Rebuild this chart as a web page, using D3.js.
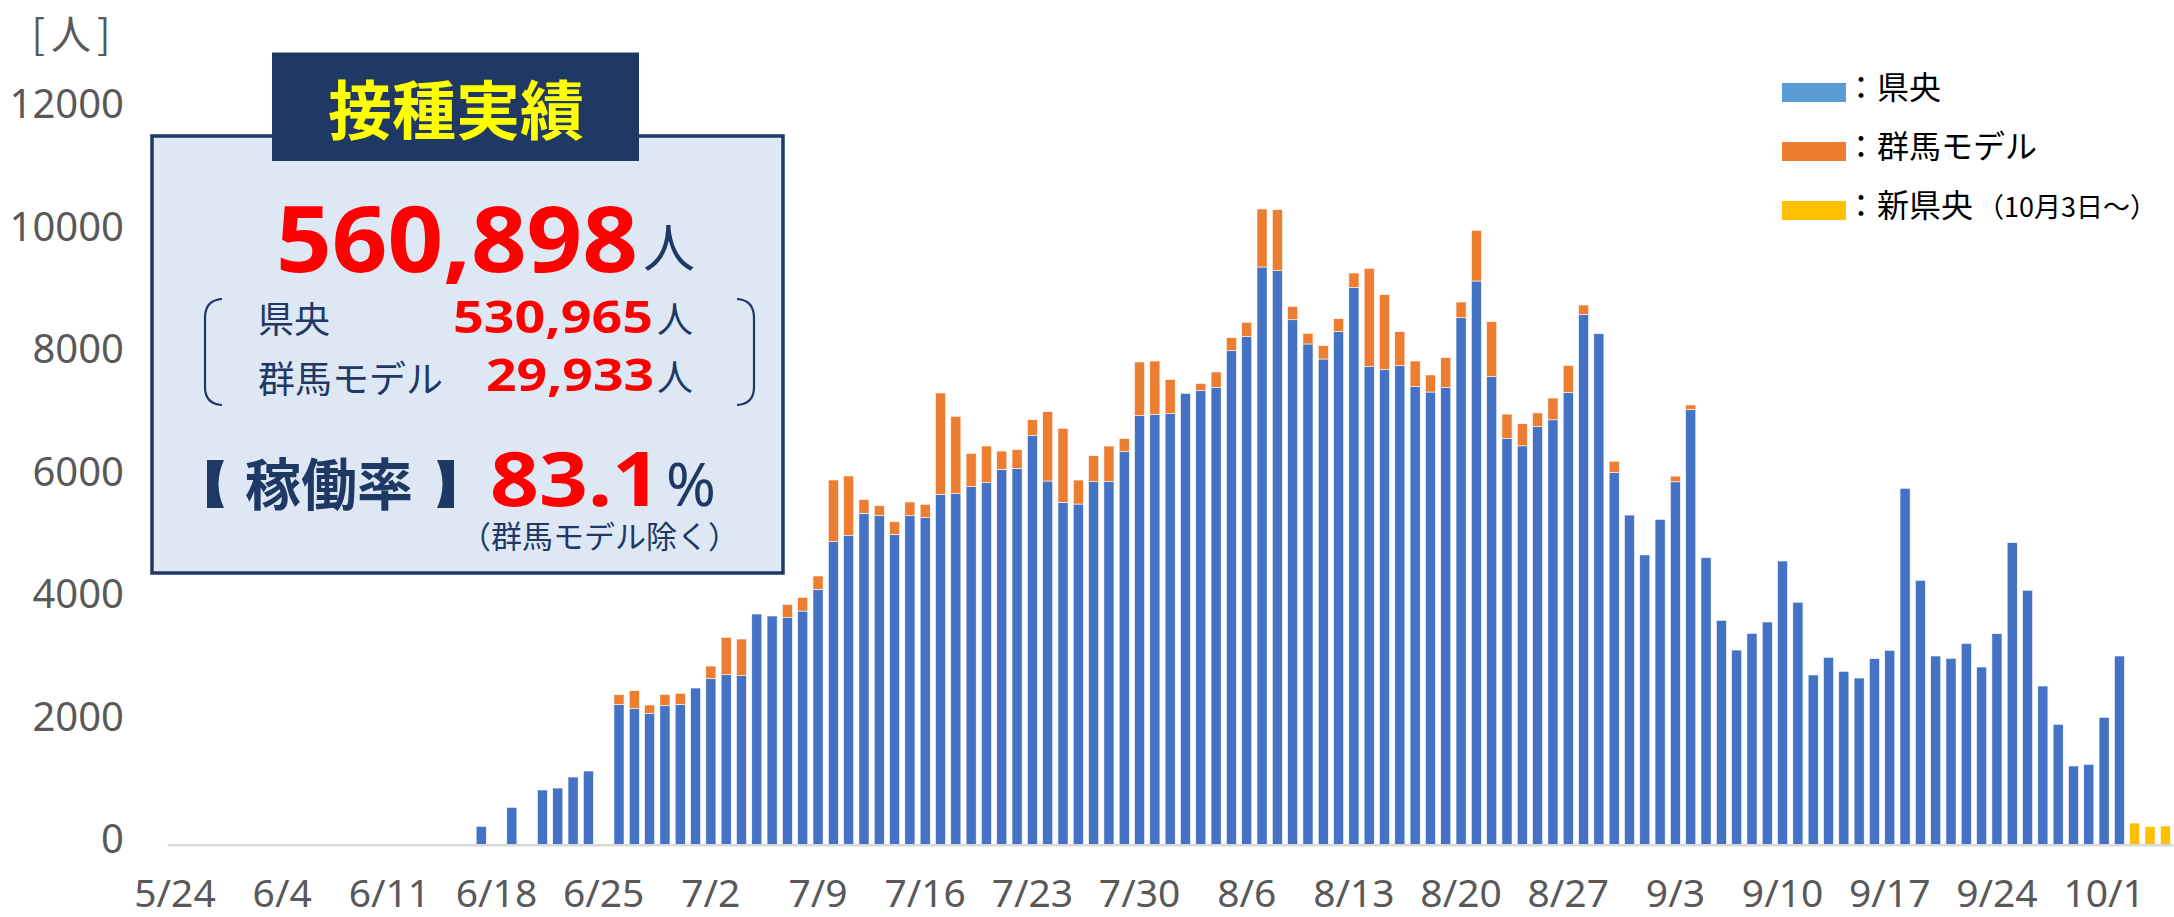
<!DOCTYPE html>
<html lang="ja">
<head>
<meta charset="utf-8">
<title>接種実績</title>
<script src="https://cdn.jsdelivr.net/npm/d3@7/dist/d3.min.js"></script>
<style>
  html, body { margin: 0; padding: 0; background: #fff; }
  svg { display: block; }
</style>
</head>
<body>
<svg id="chart" width="2174" height="917"></svg>
<script>
// categories: the axis starts at 5/24, then jumps to the daily series
const earlyDays = ["5/24", "5/29", "5/30", "5/31", "6/1", "6/2", "6/3"];
const fmt = d3.timeFormat("%-m/%-d");
const dailyDays = d3.timeDay
  .range(new Date(2021, 5, 4), new Date(2021, 9, 6))
  .map((d) => fmt(d));
const categories = earlyDays.concat(dailyDays);

const tickLabels = [
  "5/24", "6/4", "6/11", "6/18", "6/25", "7/2", "7/9", "7/16", "7/23", "7/30",
  "8/6", "8/13", "8/20", "8/27", "9/3", "9/10", "9/17", "9/24", "10/1",
];
const yTicks = [0, 2000, 4000, 6000, 8000, 10000, 12000];

// 県央 (one value per category)
const kenou = [
  0, 0, 0, 0, 0, 0, 0, 0, 0, 0, 0, 0, 0, 0, 0, 0, 0, 0, 0, 0,
  300, 0, 610, 0, 893, 925, 1105, 1203, 0,
  2286, 2220, 2139, 2269, 2286, 2558, 2710, 2775, 2759, 3766, 3734, 3706, 3815, 4170,
  4947, 5045, 5410, 5371, 5067, 5371, 5339, 5720, 5731, 5845, 5910, 6128, 6145, 6678,
  5938, 5590, 5562, 5927, 5927, 6416, 7004, 7027, 7037, 7369, 7412, 7467, 8065, 8294,
  9432, 9372, 8571, 8175, 7930, 8376, 9094, 7804, 7755, 7820, 7478, 7391, 7467, 8604,
  9203, 7641, 6630, 6512, 6824, 6937, 7386, 8655, 8343, 6075, 5382, 4731, 5312, 5925,
  7105, 4687, 3663, 3178, 3451, 3636, 4632, 3958, 2771, 3060, 2831, 2721, 3037, 3174,
  5819, 4317, 3081, 3043, 3288, 2901, 3445, 4931, 4154, 2591, 1966, 1285, 1312, 2080,
  3081, 0, 0, 0,
];

// 群馬モデル
const gunma = [
  0, 0, 0, 0, 0, 0, 0, 0, 0, 0, 0, 0, 0, 0, 0, 0, 0, 0, 0, 0,
  0, 0, 0, 0, 0, 0, 0, 0, 0,
  163, 294, 142, 186, 186, 0, 207, 611, 599, 0, 0, 219, 224, 217,
  1007, 975, 229, 164, 207, 224, 218, 1655, 1263, 545, 599, 299, 304, 261,
  1132, 1208, 392, 424, 582, 213, 877, 870, 561, 0, 121, 251, 213, 235,
  947, 996, 219, 174, 217, 212, 240, 1606, 1225, 556, 419, 278, 484, 256,
  828, 898, 400, 361, 226, 356, 438, 156, 0, 186, 0, 0, 0, 93,
  75, 0, 0, 0, 0, 0, 0, 0, 0, 0, 0, 0, 0, 0,
  0, 0, 0, 0, 0, 0, 0, 0, 0, 0, 0, 0, 0, 0,
  0, 0, 0, 0,
];

// 新県央 (from 10/3)
const shinDays = ["10/3", "10/4", "10/5"];
const shinValues = [354, 294, 305];

const seriesKeys = ["kenou", "gunma", "shin"];
const colors = { kenou: "#4472c4", gunma: "#ed7d31", shin: "#ffc000" };
const legendItems = [
  { color: "#5b9bd5", label: "：県央", note: "" },
  { color: "#ed7d31", label: "：群馬モデル", note: "" },
  { color: "#ffc000", label: "：新県央", note: "（10月3日〜）" },
];

const navy = "#1f3864";
const red = "#ff0000";
const jp = "'Noto Sans CJK JP', 'Noto Sans', sans-serif";
const latin = "'Noto Sans', 'Noto Sans CJK JP', sans-serif";

const svg = d3.select("#chart");

// 1. rows for the stack
const shinMap = new Map(shinDays.map((d, i) => [d, shinValues[i]]));
const rows = categories.map((c, i) => ({
  date: c,
  kenou: kenou[i],
  gunma: gunma[i],
  shin: shinMap.get(c) || 0,
}));
const layers = d3.stack().keys(seriesKeys)(rows);

// 2. scales
const x = d3
  .scaleBand()
  .domain(categories)
  .range([167.35, 2173])
  .paddingInner(0.34)
  .paddingOuter(0.17);
const y = d3.scaleLinear().domain([0, 12000]).range([844.7, 109.7]);

// 3. bars
svg
  .append("g")
  .selectAll("g")
  .data(layers)
  .join("g")
  .attr("fill", (d) => colors[d.key])
  .selectAll("rect")
  .data((d) => d.filter((p) => p[1] - p[0] > 0))
  .join("rect")
  .attr("x", (d) => x(d.data.date))
  .attr("width", x.bandwidth())
  .attr("y", (d) => y(d[1]))
  .attr("height", (d) => y(d[0]) - y(d[1]))
  .attr("stroke", "#fff")
  .attr("stroke-width", 0.6);

// 4. axes
const yAxis = svg
  .append("g")
  .attr("transform", "translate(124,0)")
  .call(
    d3.axisLeft(y).tickValues(yTicks).tickFormat(d3.format("d")).tickSize(0).tickPadding(0)
  );
yAxis.select(".domain").remove();
yAxis
  .selectAll("text")
  .attr("dy", "0.2em")
  .attr("fill", "#595959")
  .style("font-family", latin)
  .style("font-size", "40px");

const xAxis = svg
  .append("g")
  .attr("transform", `translate(0,${y(0)})`)
  .call(
    d3.axisBottom(x).tickValues(tickLabels).tickSize(0).tickSizeOuter(0).tickPadding(35)
  );
xAxis.select(".domain").attr("stroke", "#d9d9d9").attr("stroke-width", 2.5);
xAxis
  .selectAll("text")
  .attr("fill", "#595959")
  .style("font-family", latin)
  .style("font-size", "39px");

svg
  .append("text")
  .attr("x", 74)
  .attr("y", 49)
  .attr("text-anchor", "middle")
  .attr("fill", "#595959")
  .attr("letter-spacing", 6)
  .style("font-family", jp)
  .style("font-size", "40px")
  .text("[人]");

// 5. legend
const legend = svg
  .append("g")
  .selectAll("g")
  .data(legendItems)
  .join("g")
  .attr("transform", (d, i) => `translate(1782,${83 + i * 59})`);
legend
  .append("rect")
  .attr("width", 64)
  .attr("height", 19)
  .attr("fill", (d) => d.color);
const legendText = legend
  .append("text")
  .attr("x", 63)
  .attr("y", 16)
  .attr("fill", "#000")
  .style("font-family", jp)
  .style("font-size", "32px");
legendText.append("tspan").text((d) => d.label);
legendText
  .append("tspan")
  .attr("dx", 4)
  .style("font-size", "27px")
  .text((d) => d.note);

// 6. summary box
const box = svg.append("g");
box
  .append("rect")
  .attr("x", 152)
  .attr("y", 136)
  .attr("width", 631)
  .attr("height", 437)
  .attr("fill", "#dee8f5")
  .attr("stroke", navy)
  .attr("stroke-width", 3.5);
box
  .append("rect")
  .attr("x", 272)
  .attr("y", 52.5)
  .attr("width", 367)
  .attr("height", 108.5)
  .attr("fill", "#203864");
box
  .append("text")
  .attr("x", 456)
  .attr("y", 134)
  .attr("text-anchor", "middle")
  .attr("fill", "#ffff00")
  .attr("font-weight", "bold")
  .style("font-family", jp)
  .style("font-size", "64px")
  .text("接種実績");

function boxText(t, xx, yy, size, fill, opts = {}) {
  const el = box
    .append("text")
    .attr("x", xx)
    .attr("y", yy)
    .attr("fill", fill)
    .attr("font-weight", opts.bold ? "bold" : "normal")
    .style("font-family", opts.font || jp)
    .style("font-size", size + "px")
    .text(t);
  if (opts.len) {
    el.attr("textLength", opts.len).attr("lengthAdjust", "spacingAndGlyphs");
  }
  return el;
}

boxText("560,898", 276, 272, 91, red, { bold: true, font: latin, len: 362 });
boxText("人", 643, 267, 52, navy);
boxText("県央", 258, 333, 36, navy);
boxText("530,965", 453, 333, 45, red, { bold: true, font: latin, len: 200 });
boxText("人", 657, 333, 36, navy);
boxText("群馬モデル", 258, 393, 37, navy);
boxText("29,933", 486, 391, 45, red, { bold: true, font: latin, len: 168 });
boxText("人", 657, 391, 36, navy);
boxText("稼働率", 245, 505, 56, navy, { bold: true });
boxText("83.1", 490, 506, 76, red, { bold: true, font: latin, len: 171 });
boxText("%", 666, 506, 60, navy, { font: latin });
boxText("（群馬モデル除く）", 460, 548, 31, navy);

// curved brackets round the breakdown
box
  .append("path")
  .attr("d", "M222,299 Q205,300 205,318 L205,387 Q205,404 222,405")
  .attr("fill", "none")
  .attr("stroke", navy)
  .attr("stroke-width", 2.2);
box
  .append("path")
  .attr("d", "M737,299 Q754,300 754,318 L754,387 Q754,404 737,405")
  .attr("fill", "none")
  .attr("stroke", navy)
  .attr("stroke-width", 2.2);

// 【 】 brackets
box
  .append("path")
  .attr("d", "M207,460 L224,460 Q213,484 224,508 L207,508 Z")
  .attr("fill", navy);
box
  .append("path")
  .attr("d", "M454,460 L437,460 Q448,484 437,508 L454,508 Z")
  .attr("fill", navy);
</script>
</body>
</html>
